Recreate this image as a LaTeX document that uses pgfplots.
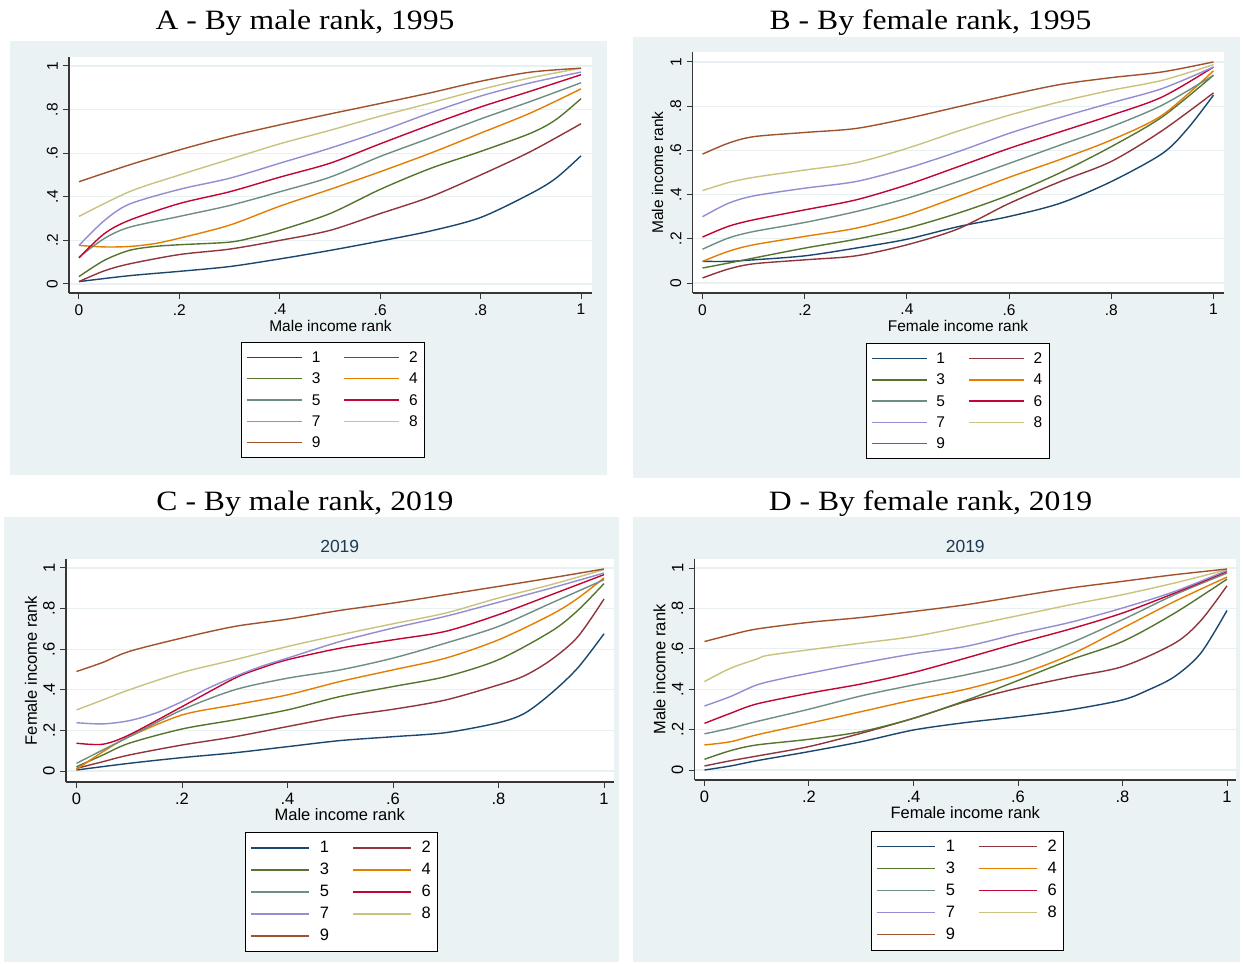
\documentclass[border=0pt]{standalone}
\usepackage{pgfplots}
\pgfplotsset{compat=1.18}
\usepackage{fontspec}
\setmainfont{Liberation Sans}
\newfontfamily\titleserif{Liberation Serif}

% Stata s2color palette
\definecolor{p1}{RGB}{26,71,111}
\definecolor{p2}{RGB}{144,53,59}
\definecolor{p3}{RGB}{85,117,47}
\definecolor{p4}{RGB}{227,126,0}
\definecolor{p5}{RGB}{110,142,132}
\definecolor{p6}{RGB}{193,5,52}
\definecolor{p7}{RGB}{147,141,210}
\definecolor{p8}{RGB}{202,194,126}
\definecolor{p9}{RGB}{160,82,45}
\definecolor{panelbg}{RGB}{234,242,243}
\definecolor{gridc}{RGB}{232,240,242}
\definecolor{axc}{RGB}{55,55,55}
\definecolor{subt}{RGB}{30,55,85}

\pgfplotsset{
  stata/.style={
    scale only axis,
    axis lines*=left,
    axis line style={axc, line width=1.1pt, -},
    axis background/.style={fill=white},
    xtick={0,0.2,0.4,0.6,0.8,1},
    xticklabels={0,.2,.4,.6,.8,1},
    ytick={0,0.2,0.4,0.6,0.8,1},
    yticklabels={0,.2,.4,.6,.8,1},
    tick align=outside,
    major tick length=6pt,
    tick style={axc, line width=1pt},
    ymajorgrids,
    major grid style={gridc, line width=1.2pt},
    yticklabel style={rotate=90, anchor=south, inner sep=0pt},
    xticklabel style={anchor=north, inner sep=0pt},
    xticklabel shift=5pt,
    yticklabel shift=5pt,
    every axis x label/.style={at={(axis description cs:0.5,0)}, anchor=center, yshift=-33pt},
    every axis y label/.style={at={(axis description cs:0,0.5)}, anchor=center, xshift=-35pt, rotate=90},
    every axis plot/.append style={line width=1.4pt, smooth},
    legend cell align=left,
    legend columns=2,
    legend style={anchor=north west, draw=black, line width=0.9pt, fill=white,
      inner xsep=5pt, inner ysep=7pt,
      nodes={inner sep=2pt, text height=11pt, text depth=1pt}},
  },
  smallfont/.style={
    tick label style={font=\fontsize{15.5}{18}\selectfont},
    label style={font=\fontsize{15.5}{18}\selectfont},
    legend image code/.code={\draw[line width=1.5pt, ##1] (0pt,0pt) -- (55pt,0pt);},
    legend style={font=\fontsize{15.5}{18}\selectfont, row sep=5.3pt,
      /tikz/every odd column/.append style={column sep=7pt},
      /tikz/every even column/.append style={column sep=21pt}},
  },
  bigfont/.style={
    tick label style={font=\fontsize{16.5}{19}\selectfont},
    label style={font=\fontsize{16.5}{19}\selectfont},
    legend image code/.code={\draw[line width=1.5pt, ##1] (0pt,0pt) -- (58pt,0pt);},
    legend style={font=\fontsize{16.5}{19}\selectfont, row sep=6pt, inner ysep=7.5pt,
      /tikz/every odd column/.append style={column sep=8pt},
      /tikz/every even column/.append style={column sep=21pt}},
  },
}

\begin{document}
\begin{tikzpicture}
\useasboundingbox (0pt,0pt) rectangle (1243pt,964pt);
\fill[white] (0pt,0pt) rectangle (1243pt,964pt);

% graph regions
\fill[panelbg] (10pt,489pt) rectangle (607pt,923pt);
\fill[panelbg] (633pt,486pt) rectangle (1240pt,927pt);
\fill[panelbg] (4pt,2pt) rectangle (619pt,447pt);
\fill[panelbg] (633pt,2pt) rectangle (1240pt,447pt);

% panel titles
\node[anchor=base, font=\titleserif\fontsize{28}{32}\selectfont, xscale=1.13] at (305pt,934pt) {A - By male rank, 1995};
\node[anchor=base, font=\titleserif\fontsize{28}{32}\selectfont, xscale=1.13] at (930.5pt,934pt) {B - By female rank, 1995};
\node[anchor=base, font=\titleserif\fontsize{28}{32}\selectfont, xscale=1.13] at (305pt,453.3pt) {C - By male rank, 2019};
\node[anchor=base, font=\titleserif\fontsize{28}{32}\selectfont, xscale=1.13] at (930.5pt,453.3pt) {D - By female rank, 2019};

% ---------- A: by male rank, 1995 ----------
\begin{axis}[stata, smallfont, at={(69pt,671pt)}, anchor=south west,
  width=523pt, height=236pt,
  xmin=-0.0199, xmax=1.0219, ymin=-0.0413, ymax=1.0413,
  xlabel={Male income rank},
  legend style={at={(0.3289,-0.2076)}}]
\addplot[p1] coordinates {(0,.011)(.1,.038)(.2,.058)(.3,.08)(.4,.115)(.5,.154)(.6,.197)(.7,.243)(.8,.305)(.9,.415)(.95,.485)(1,.588)};
\addplot[p2] coordinates {(0,.011)(.05,.06)(.1,.092)(.2,.135)(.3,.16)(.4,.2)(.5,.246)(.6,.323)(.7,.4)(.8,.5)(.9,.608)(1,.735)};
\addplot[p3] coordinates {(0,.034)(.05,.108)(.1,.154)(.15,.172)(.2,.18)(.3,.192)(.35,.215)(.4,.246)(.5,.323)(.6,.434)(.7,.53)(.8,.608)(.9,.692)(.95,.754)(1,.85)};
\addplot[p4] coordinates {(0,.177)(.05,.17)(.1,.172)(.15,.185)(.2,.21)(.3,.27)(.4,.357)(.5,.434)(.6,.515)(.7,.6)(.8,.692)(.9,.785)(1,.895)};
\addplot[p5] coordinates {(0,.123)(.05,.208)(.1,.26)(.2,.31)(.3,.36)(.4,.423)(.5,.49)(.6,.585)(.7,.67)(.8,.757)(.9,.838)(1,.923)};
\addplot[p6] coordinates {(0,.12)(.05,.23)(.1,.292)(.2,.369)(.3,.423)(.4,.49)(.5,.554)(.6,.643)(.7,.73)(.8,.812)(.9,.885)(1,.96)};
\addplot[p7] coordinates {(0,.177)(.05,.29)(.1,.366)(.2,.434)(.3,.485)(.4,.554)(.5,.623)(.6,.70)(.7,.785)(.8,.862)(.9,.923)(1,.972)};
\addplot[p8] coordinates {(0,.31)(.1,.423)(.2,.5)(.3,.572)(.4,.643)(.5,.705)(.6,.77)(.7,.83)(.8,.892)(.9,.946)(1,.99)};
\addplot[p9] coordinates {(0,.469)(.1,.546)(.2,.615)(.3,.677)(.4,.73)(.5,.78)(.6,.828)(.7,.877)(.8,.93)(.9,.972)(1,.99)};
\legend{1,2,3,4,5,6,7,8,9}
\end{axis}

% ---------- B: by female rank, 1995 ----------
\begin{axis}[stata, smallfont, at={(692.5pt,671pt)}, anchor=south west,
  width=531pt, height=241pt,
  xmin=-0.0196, xmax=1.0196, ymin=-0.045, ymax=1.045,
  xlabel={Female income rank}, ylabel={Male income rank},
  legend style={at={(0.3258,-0.2075)}}]
\addplot[p1] coordinates {(0,.098)(.05,.098)(.1,.105)(.2,.123)(.3,.158)(.4,.198)(.5,.255)(.6,.301)(.7,.361)(.8,.459)(.9,.586)(.95,.70)(1,.85)};
\addplot[p2] coordinates {(0,.023)(.05,.063)(.1,.087)(.2,.105)(.3,.123)(.4,.173)(.5,.245)(.6,.36)(.7,.459)(.8,.55)(.9,.69)(1,.86)};
\addplot[p3] coordinates {(0,.068)(.05,.09)(.1,.113)(.2,.158)(.3,.198)(.4,.248)(.5,.316)(.6,.398)(.7,.499)(.8,.617)(.9,.752)(1,.94)};
\addplot[p4] coordinates {(0,.098)(.05,.143)(.1,.173)(.2,.211)(.3,.248)(.4,.308)(.5,.391)(.6,.478)(.7,.559)(.8,.647)(.9,.76)(1,.96)};
\addplot[p5] coordinates {(0,.153)(.05,.203)(.1,.233)(.2,.274)(.3,.323)(.4,.383)(.5,.459)(.6,.541)(.7,.624)(.8,.707)(.9,.805)(1,.94)};
\addplot[p6] coordinates {(0,.208)(.05,.256)(.1,.286)(.2,.331)(.3,.376)(.4,.444)(.5,.526)(.6,.609)(.7,.684)(.8,.759)(.9,.842)(1,.977)};
\addplot[p7] coordinates {(0,.30)(.05,.36)(.1,.394)(.2,.429)(.3,.459)(.4,.519)(.5,.594)(.6,.677)(.7,.749)(.8,.815)(.9,.88)(1,.977)};
\addplot[p8] coordinates {(0,.418)(.05,.454)(.1,.478)(.2,.511)(.3,.544)(.4,.609)(.5,.687)(.6,.759)(.7,.82)(.8,.872)(.9,.917)(1,.988)};
\addplot[p9] coordinates {(0,.583)(.05,.632)(.1,.662)(.2,.681)(.3,.699)(.4,.744)(.5,.797)(.6,.85)(.7,.898)(.8,.929)(.9,.955)(1,1.0)};
\legend{1,2,3,4,5,6,7,8,9}
\end{axis}

% ---------- C: by male rank, 2019 ----------
\begin{axis}[stata, bigfont, at={(66pt,182pt)}, anchor=south west,
  width=547.5pt, height=223pt,
  xmin=-0.0199, xmax=1.018, ymin=-0.054, ymax=1.044,
  xlabel={Male income rank}, ylabel={Female income rank},
  title={2019}, title style={font=\fontsize{17.5}{20}\selectfont, text=subt, at={(axis description cs:0.5,1)}, anchor=center, yshift=6.3pt},
  legend style={at={(0.3269,-0.2242)}}]
\addplot[p1] coordinates {(0,.005)(.1,.038)(.2,.066)(.3,.09)(.4,.12)(.5,.15)(.6,.169)(.7,.189)(.8,.238)(.85,.285)(.9,.383)(.95,.507)(1,.676)};
\addplot[p2] coordinates {(0,.013)(.05,.046)(.1,.079)(.2,.128)(.3,.169)(.4,.219)(.5,.268)(.6,.304)(.7,.35)(.8,.424)(.85,.47)(.9,.548)(.95,.66)(1,.847)};
\addplot[p3] coordinates {(0,.021)(.05,.079)(.1,.137)(.2,.207)(.3,.252)(.4,.301)(.5,.367)(.6,.416)(.7,.465)(.8,.548)(.9,.688)(.95,.79)(1,.923)};
\addplot[p4] coordinates {(0,.008)(.05,.095)(.1,.169)(.2,.276)(.3,.326)(.4,.375)(.5,.441)(.6,.498)(.7,.556)(.8,.646)(.9,.77)(.95,.85)(1,.951)};
\addplot[p5] coordinates {(0,.038)(.05,.104)(.1,.169)(.2,.301)(.3,.40)(.4,.457)(.5,.498)(.6,.556)(.7,.63)(.8,.712)(.9,.827)(1,.942)};
\addplot[p6] coordinates {(0,.137)(.05,.132)(.1,.178)(.2,.317)(.3,.457)(.35,.507)(.4,.548)(.5,.605)(.6,.646)(.7,.688)(.8,.77)(.9,.868)(1,.967)};
\addplot[p7] coordinates {(0,.238)(.05,.232)(.1,.248)(.15,.285)(.2,.342)(.25,.408)(.3,.465)(.35,.515)(.4,.556)(.5,.638)(.6,.704)(.7,.762)(.8,.831)(.9,.901)(1,.975)};
\addplot[p8] coordinates {(0,.301)(.05,.35)(.1,.40)(.2,.485)(.3,.548)(.4,.613)(.5,.671)(.6,.725)(.7,.778)(.8,.852)(.9,.918)(1,.992)};
\addplot[p9] coordinates {(0,.49)(.05,.535)(.1,.589)(.2,.655)(.3,.712)(.4,.748)(.5,.791)(.6,.827)(.7,.868)(.8,.909)(.9,.951)(1,.995)};
\legend{1,2,3,4,5,6,7,8,9}
\end{axis}

% ---------- D: by female rank, 2019 ----------
\begin{axis}[stata, bigfont, at={(694.5pt,184pt)}, anchor=south west,
  width=541.5pt, height=221pt,
  xmin=-0.0191, xmax=1.0172, ymin=-0.0495, ymax=1.0446,
  xlabel={Female income rank}, ylabel={Male income rank},
  title={2019}, title style={font=\fontsize{17.5}{20}\selectfont, text=subt, at={(axis description cs:0.5,1)}, anchor=center, yshift=6.3pt},
  legend style={at={(0.326,-0.2294)}}]
\addplot[p1] coordinates {(0,0)(.05,.02)(.1,.046)(.2,.091)(.3,.14)(.4,.198)(.5,.235)(.6,.264)(.7,.298)(.8,.347)(.85,.397)(.9,.463)(.95,.579)(1,.79)};
\addplot[p2] coordinates {(0,.02)(.05,.046)(.1,.069)(.2,.116)(.3,.182)(.4,.256)(.5,.339)(.6,.405)(.7,.46)(.8,.512)(.9,.628)(.95,.74)(1,.912)};
\addplot[p3] coordinates {(0,.053)(.05,.096)(.1,.124)(.2,.152)(.3,.19)(.4,.256)(.5,.344)(.6,.443)(.7,.545)(.8,.636)(.9,.777)(1,.945)};
\addplot[p4] coordinates {(0,.124)(.05,.14)(.1,.174)(.2,.231)(.3,.289)(.4,.347)(.5,.40)(.6,.471)(.7,.57)(.8,.702)(.9,.835)(1,.955)};
\addplot[p5] coordinates {(0,.179)(.05,.207)(.1,.24)(.2,.301)(.3,.367)(.4,.421)(.5,.471)(.6,.532)(.7,.628)(.8,.744)(.9,.868)(1,.975)};
\addplot[p6] coordinates {(0,.231)(.05,.281)(.1,.327)(.2,.38)(.3,.426)(.4,.483)(.5,.554)(.6,.628)(.7,.698)(.8,.777)(.9,.876)(1,.983)};
\addplot[p7] coordinates {(0,.317)(.05,.364)(.1,.421)(.15,.453)(.2,.479)(.3,.529)(.4,.575)(.5,.612)(.6,.674)(.7,.731)(.8,.802)(.9,.884)(1,.988)};
\addplot[p8] coordinates {(0,.438)(.05,.504)(.1,.549)(.12,.567)(.2,.595)(.3,.628)(.4,.661)(.5,.711)(.6,.764)(.7,.818)(.8,.868)(.9,.926)(1,.992)};
\addplot[p9] coordinates {(0,.636)(.05,.669)(.1,.698)(.2,.731)(.3,.755)(.4,.785)(.5,.818)(.6,.86)(.7,.901)(.8,.934)(.9,.967)(1,.995)};
\legend{1,2,3,4,5,6,7,8,9}
\end{axis}
\end{tikzpicture}
\end{document}
